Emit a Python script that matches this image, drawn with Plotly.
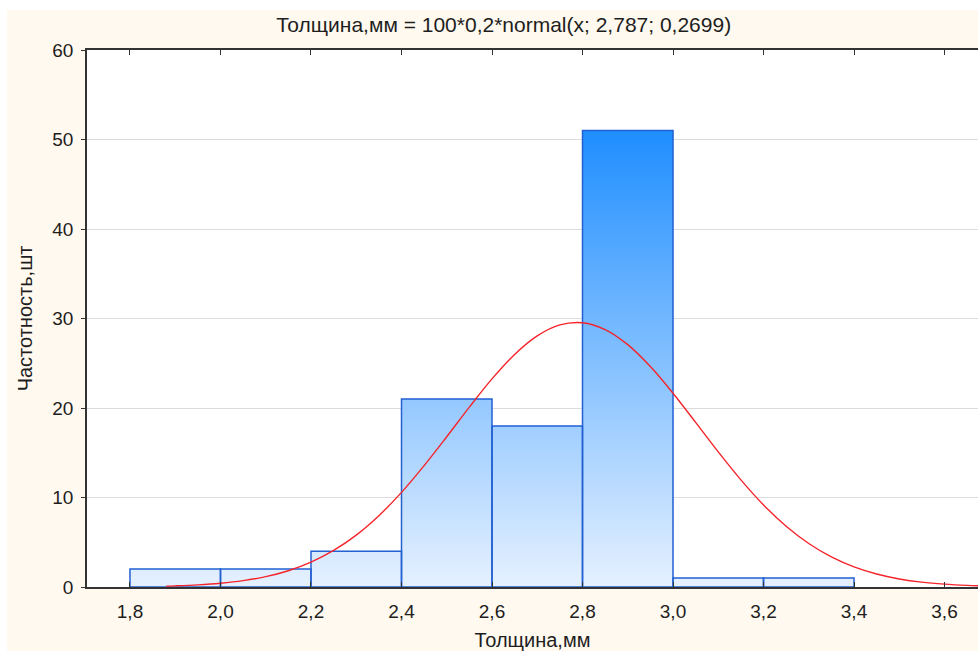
import plotly.graph_objects as go

# Histogram bins (left edges, width) and counts
bin_left = [1.8, 2.0, 2.2, 2.4, 2.6, 2.8, 3.0, 3.2]
bin_width = 0.2
counts = [2, 2, 4, 21, 18, 51, 1, 1]

# Fitted normal curve points
curve_x = [1.88, 1.90, 1.95, 2.00, 2.05, 2.10, 2.15, 2.20, 2.25, 2.30, 2.35, 2.40, 2.45, 2.50,
           2.55, 2.60, 2.65, 2.70, 2.75, 2.80, 2.85, 2.90, 2.95, 3.00, 3.05, 3.10, 3.15,
           3.20, 3.25, 3.30, 3.35, 3.40, 3.45, 3.50, 3.55, 3.60, 3.65, 3.70]
curve_y = [0.10, 0.13, 0.24, 0.42, 0.71, 1.16, 1.82, 2.78, 4.09, 5.80, 7.97, 10.57, 13.56, 16.79,
           20.10, 23.25, 25.99, 28.06, 29.28, 29.53, 28.77, 27.08, 24.63, 21.65, 18.39, 15.09, 11.97,
           9.17, 6.79, 4.86, 3.36, 2.24, 1.45, 0.90, 0.54, 0.32, 0.18, 0.10]

x_ticks = [1.8, 2.0, 2.2, 2.4, 2.6, 2.8, 3.0, 3.2, 3.4, 3.6]
x_tick_text = ["1,8", "2,0", "2,2", "2,4", "2,6", "2,8", "3,0", "3,2", "3,4", "3,6"]
y_ticks = [0, 10, 20, 30, 40, 50, 60]

title_text = "Толщина,мм = 100*0,2*normal(x; 2,787; 0,2699)"
x_title = "Толщина,мм"
y_title = "Частотность,шт"

FONT = "Arial, Liberation Sans, sans-serif"
TXT = "#1e1e1e"

# Build bar polygons (separated by None) so a vertical gradient fill can be used
bx, by = [], []
for l, c in zip(bin_left, counts):
    r = l + bin_width
    bx += [l, l, r, r, l, None]
    by += [0, c, c, 0, 0, None]

fig = go.Figure()
fig.add_trace(go.Scatter(
    x=bx, y=by, mode="lines", fill="toself",
    line=dict(color="#2260D2", width=1.5),
    fillgradient=dict(type="vertical",
                      colorscale=[[0, "#E6F1FF"], [1, "#1F8EFF"]],
                      start=0, stop=max(counts)),
    hoverinfo="skip", showlegend=False,
))
fig.add_trace(go.Scatter(
    x=curve_x, y=curve_y, mode="lines", line=dict(color="#F5242B", width=1.4, shape="spline"),
    showlegend=False,
))

fig.update_layout(
    width=978, height=651,
    margin=dict(l=87, r=0, t=50, b=64),
    paper_bgcolor="#FFF9EF",
    plot_bgcolor="white",
    font=dict(family=FONT, size=19, color=TXT),
    title=dict(text=title_text, x=0.515, xanchor="center", y=1 - 25 / 651, yanchor="middle",
               font=dict(family=FONT, size=21, color=TXT)),
    xaxis=dict(range=[1.705, 3.674], tickvals=x_ticks, ticktext=x_tick_text,
               showgrid=False, zeroline=False,
               showline=True, linecolor="#333333", linewidth=2, mirror="ticks",
               ticks="inside", ticklen=5, tickcolor="#333333", tickwidth=1,
               ticklabelstandoff=6,
               tickfont=dict(size=19, color=TXT),
               title=dict(text=x_title, standoff=16, font=dict(size=20, color=TXT))),
    yaxis=dict(range=[0, 60], tickvals=y_ticks,
               showgrid=True, gridcolor="#DCDCDC", gridwidth=1, zeroline=False,
               showline=True, linecolor="#333333", linewidth=1.5,
               ticks="outside", ticklen=4, tickcolor="#333333",
               ticklabelstandoff=4,
               tickfont=dict(size=19, color=TXT),
               title=dict(text=y_title, standoff=14, font=dict(size=20, color=TXT))),
    shapes=[
        dict(type="rect", xref="paper", yref="paper", x0=-87 / 891, x1=1,
             y0=1 + 40 / 537, y1=1 + 50 / 537, fillcolor="white", line=dict(width=0), layer="below"),
        dict(type="rect", xref="paper", yref="paper", x0=-87 / 891, x1=-80 / 891,
             y0=-64 / 537, y1=1 + 50 / 537, fillcolor="white", line=dict(width=0), layer="below"),
    ],
)

fig.write_html("out.html")
